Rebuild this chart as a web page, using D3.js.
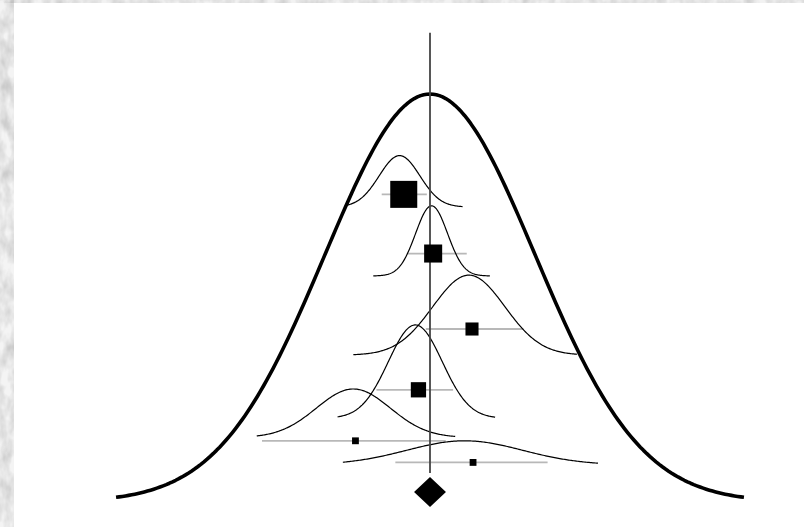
<!DOCTYPE html>
<html>
<head>
<meta charset="utf-8">
<script src="https://cdn.jsdelivr.net/npm/d3@7"></script>
<style>
  html, body { margin: 0; padding: 0; background: #fff; }
  svg { display: block; }
</style>
</head>
<body>
<svg width="804" height="527"></svg>
<script>
// study level results (effect size units)
const studies    = ['Study 1', 'Study 2', 'Study 3', 'Study 4', 'Study 5', 'Study 6'];
const estimates  = [-0.25, 0.03, 0.40, -0.11, -0.71, 0.41];
const ciLower    = [-0.46, -0.22, -0.04, -0.51, -1.60, -0.33];
const ciUpper    = [-0.03, 0.35, 0.89, 0.22, 0.15, 1.12];
const weights    = [47, 21, 11, 15, 3, 3];
const rows       = [0.754, 0.609, 0.424, 0.275, 0.150, 0.097];

// likelihood curves drawn above each study
const curveMean  = [-0.29, 0.015, 0.37, -0.14, -0.73, 0.33];
const curveSd    = [0.194, 0.152, 0.343, 0.257, 0.352, 0.552];
const curveLo    = [-0.81, -0.54, -0.73, -0.88, -1.65, -0.83];
const curveHi    = [0.31, 0.57, 1.40, 0.62, 0.24, 1.60];
const curveBase  = [0.723, 0.554, 0.360, 0.205, 0.158, 0.091];
const curveHigh  = [0.126, 0.172, 0.196, 0.229, 0.119, 0.059];

// pooled result
const pooledMean = 0;
const pooledSd   = 1;
const pooledCi   = [-0.152, 0.152];
const pooledRow  = 0.0245;
const refLine    = [0.071, 1.15];

const svg = d3.select('svg');
const width = 804, height = 527;

// textured left and top border
const defs = svg.append('defs');
const f = defs.append('filter').attr('id', 'marble')
    .attr('x', 0).attr('y', 0).attr('width', '100%').attr('height', '100%');
f.append('feTurbulence').attr('type', 'fractalNoise')
    .attr('baseFrequency', '0.09 0.05').attr('numOctaves', 3).attr('seed', 4);
f.append('feColorMatrix').attr('type', 'matrix')
    .attr('values', '0 0 0 0 0  0 0 0 0 0  0 0 0 0 0  -0.9 0 0 0 0.62');
f.append('feComposite').attr('in2', 'SourceGraphic').attr('operator', 'in');

const border = svg.append('g');
border.append('rect').attr('x', 0).attr('y', 0).attr('width', 14).attr('height', height).attr('fill', '#f4f4f4');
border.append('rect').attr('x', 0).attr('y', 0).attr('width', width).attr('height', 3).attr('fill', '#f2f2f2');
border.append('rect').attr('x', 0).attr('y', 0).attr('width', 14).attr('height', height)
    .attr('fill', '#000').attr('opacity', 0.35).attr('filter', 'url(#marble)');
border.append('rect').attr('x', 0).attr('y', 0).attr('width', width).attr('height', 3)
    .attr('fill', '#000').attr('opacity', 0.3).attr('filter', 'url(#marble)');

// Scales
const x = d3.scaleLinear().domain([-3, 3]).range([115, 745]);
const y = d3.scaleLinear().domain([0, 1]).range([502, 94]);
const boxSize = d3.scaleSqrt().domain([0, 47]).range([0, 27]);

const g = svg.append('g');

function density(mu, sd, lo, hi, base, high) {
    const step = (hi - lo) / 200;
    return d3.range(lo, hi + step / 2, step).map(v => [v, base + high * Math.exp(-0.5 * ((v - mu) / sd) ** 2)]);
}

const line = d3.line().x(d => x(d[0])).y(d => y(d[1]));

// pooled curve
g.append('path')
    .attr('d', line(density(pooledMean, pooledSd, -2.99, 2.99, 0, 1)))
    .attr('fill', 'none')
    .attr('stroke', '#000')
    .attr('stroke-width', 3.6)
    .attr('stroke-linejoin', 'round');

// confidence intervals
g.selectAll('.ci')
    .data(studies)
    .enter().append('line')
    .attr('class', 'ci')
    .attr('x1', (d, i) => x(ciLower[i]))
    .attr('x2', (d, i) => x(ciUpper[i]))
    .attr('y1', (d, i) => y(rows[i]))
    .attr('y2', (d, i) => y(rows[i]))
    .attr('stroke', '#b8b8b8')
    .attr('stroke-width', 1.8);

// study curves
g.selectAll('.curve')
    .data(studies)
    .enter().append('path')
    .attr('class', 'curve')
    .attr('d', (d, i) => line(density(curveMean[i], curveSd[i], curveLo[i], curveHi[i], curveBase[i], curveHigh[i])))
    .attr('fill', 'none')
    .attr('stroke', '#000')
    .attr('stroke-width', 1.2);

// reference line at the pooled estimate
g.append('line')
    .attr('x1', x(pooledMean)).attr('x2', x(pooledMean))
    .attr('y1', y(refLine[1])).attr('y2', y(refLine[0]))
    .attr('stroke', '#444')
    .attr('stroke-width', 1.8);

// study boxes
g.selectAll('.box')
    .data(studies)
    .enter().append('rect')
    .attr('class', 'box')
    .attr('x', (d, i) => x(estimates[i]) - boxSize(weights[i]) / 2)
    .attr('y', (d, i) => y(rows[i]) - boxSize(weights[i]) / 2)
    .attr('width', (d, i) => boxSize(weights[i]))
    .attr('height', (d, i) => boxSize(weights[i]))
    .attr('fill', '#000');

// pooled diamond
const cy = y(pooledRow);
g.append('path')
    .attr('d', `M${x(pooledCi[0])},${cy}L${x(pooledMean)},${cy - 15}L${x(pooledCi[1])},${cy}L${x(pooledMean)},${cy + 15}Z`)
    .attr('fill', '#000');
</script>
</body>
</html>
